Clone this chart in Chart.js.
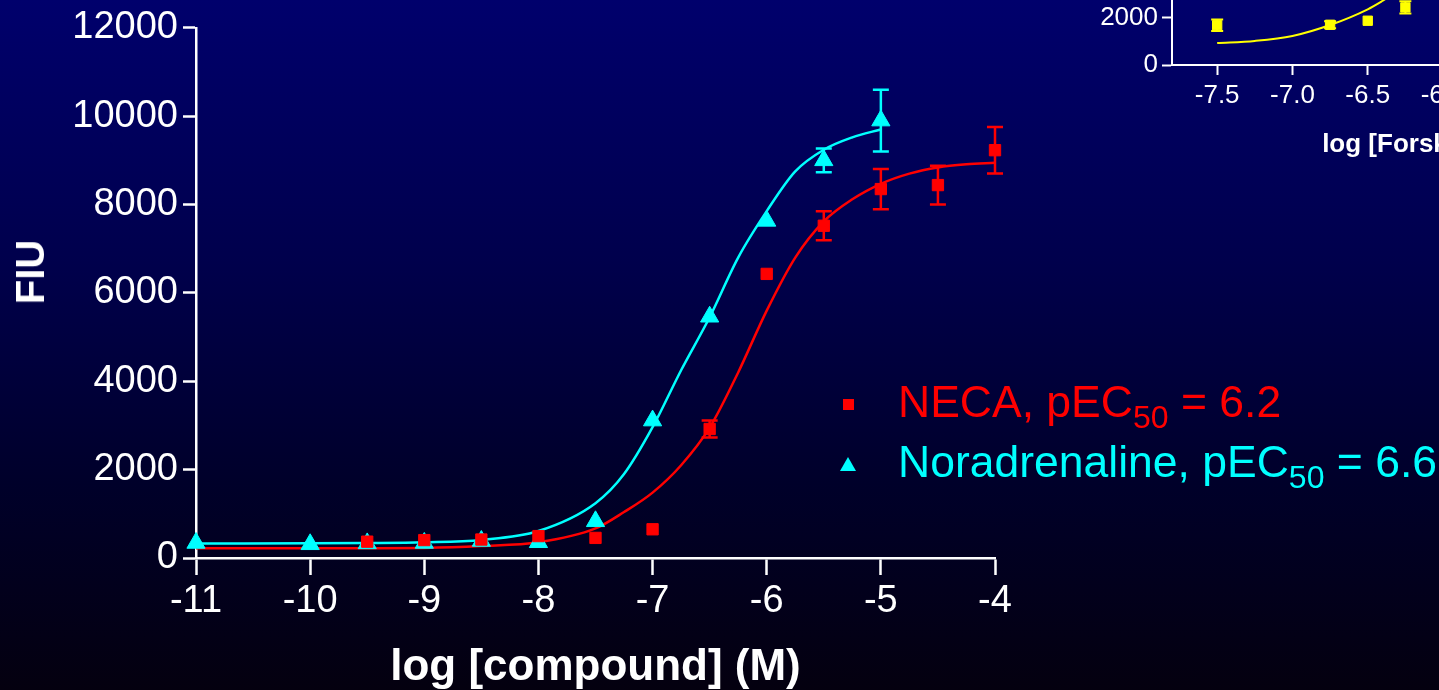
<!DOCTYPE html>
<html>
<head>
<meta charset="utf-8">
<script src="https://cdn.jsdelivr.net/npm/chart.js@4.4.1/dist/chart.umd.min.js"></script>
<style>
  html, body { margin: 0; padding: 0; width: 1439px; height: 690px; overflow: hidden; }
  body {
    position: relative;
    background: linear-gradient(to bottom, #00006c 0%, #00004c 38%, #00002a 70%, #04000f 100%);
    font-family: "Liberation Sans", Arial, sans-serif;
  }
  #main { position: absolute; left: 0; top: 0; }
  #inset { position: absolute; left: 1090px; top: -300px; }
  #ytitle {
    position: absolute; left: 30px; top: 272px;
    transform: translate(-50%, -50%) rotate(-90deg);
    color: #fff; font-weight: bold; font-size: 40px; line-height: 40px;
  }
  .leg { position: absolute; left: 898px; font-size: 44.5px; line-height: 46px; white-space: nowrap; }
  .leg span.sub { font-size: 0.72em; vertical-align: -0.35em; line-height: 0; }
  #leg1 { top: 379px; color: #ff0000; }
  #leg2 { top: 439px; color: #00ffff; }
  #mk1 { position: absolute; left: 843px; top: 399px; width: 11px; height: 11px; background: #ff0000; }
  #mk2 { position: absolute; left: 840px; top: 457px; width: 0; height: 0;
         border-left: 8px solid transparent; border-right: 8px solid transparent; border-bottom: 14px solid #00ffff; }
</style>
</head>
<body>
<canvas id="main" width="1439" height="690"></canvas>
<canvas id="inset" width="700" height="460"></canvas>
<div id="ytitle">FIU</div>
<div id="mk1"></div>
<div class="leg" id="leg1">NECA, pEC<span class="sub">50</span> = 6.2</div>
<div id="mk2"></div>
<div class="leg" id="leg2">Noradrenaline, pEC<span class="sub">50</span> = 6.6</div>
<script>
// main chart: measured points (log M, FIU) and SEM
const necaX = [-9.5, -9, -8.5, -8, -7.5, -7, -6.5, -6, -5.5, -5, -4.5, -4];
const necaY = [370, 405, 418, 496, 455, 650, 2920, 6430, 7520, 8350, 8440, 9230];
const necaErr = [0, 0, 0, 0, 0, 0, 190, 0, 330, 455, 440, 525];

const noraX = [-11, -10, -9.5, -9, -8.5, -8, -7.5, -7, -6.5, -6, -5.5, -5];
const noraY = [340, 310, 330, 340, 385, 356, 830, 3110, 5460, 7630, 9000, 9900];
const noraErr = [0, 0, 0, 0, 0, 0, 0, 0, 0, 0, 270, 700];

// fitted curves
const necaFitX = [-11, -10, -9.5, -9, -8.5, -8, -7.5, -7.25, -7, -6.75, -6.5, -6.25, -6, -5.75, -5.5, -5.25, -5, -4.75, -4.5, -4.25, -4];
const necaFitY = [218, 220, 222, 228, 270, 355, 670, 1040, 1480, 2100, 2950, 4200, 5600, 6800, 7620, 8120, 8470, 8700, 8840, 8910, 8945];
const noraFitX = [-11, -10, -9.5, -9, -8.5, -8, -7.5, -7.25, -7, -6.75, -6.5, -6.25, -6, -5.75, -5.5, -5.25, -5];
const noraFitY = [330, 332, 338, 355, 410, 610, 1240, 1900, 2960, 4250, 5450, 6800, 7850, 8750, 9240, 9520, 9700];

const yTicksMain = [0, 12000, 2000];   // min, max, step
const xTicksMain = [-11, -4, 1];

// inset (cut off at the top right)
const forskX = [-7.5, -6.75, -6.5, -6.25];
const forskY = [1670, 1690, 1860, 2420];
const forskErr = [240, 150, 0, 260];
const forskFitX = [-7.5, -7.25, -7, -6.75, -6.5, -6.4, -6.25];
const forskFitY = [920, 1010, 1220, 1680, 2340, 2700, 3300];
const insetXTicks = [-7.5, -7.0, -6.5, -6.0, -5.5, -5.0, -4.5];
const insetYTicks = [0, 2000, 4000, 6000, 8000, 10000];

const RED = '#ff0000', CYAN = '#00ffff', YELLOW = '#ffff00', WHITE = '#ffffff';
const FONT = '"Liberation Sans", Arial, sans-serif';

function pts(xs, ys) { return xs.map((x, i) => ({ x: x, y: ys[i] })); }

// vertical error bars with caps, drawn under the markers
const errorBars = {
  id: 'errorBars',
  beforeDatasetsDraw(chart) {
    const ctx = chart.ctx;
    const sx = chart.scales.x, sy = chart.scales.y;
    chart.data.datasets.forEach(ds => {
      if (!ds.errors) return;
      ctx.save();
      ctx.strokeStyle = ds.backgroundColor;
      ctx.lineWidth = ds.errWidth || 2.5;
      const cap = ds.errCap || 8;
      ds.data.forEach((p, i) => {
        const e = ds.errors[i];
        if (!e) return;
        const px = sx.getPixelForValue(p.x);
        const top = sy.getPixelForValue(p.y + e);
        const bot = sy.getPixelForValue(p.y - e);
        ctx.beginPath();
        ctx.moveTo(px, top); ctx.lineTo(px, bot);
        ctx.moveTo(px - cap, top); ctx.lineTo(px + cap, top);
        ctx.moveTo(px - cap, bot); ctx.lineTo(px + cap, bot);
        ctx.stroke();
      });
      ctx.restore();
    });
  }
};

Chart.defaults.font.family = FONT;
Chart.defaults.color = WHITE;

new Chart(document.getElementById('main'), {
  type: 'scatter',
  data: {
    datasets: [
      { data: pts(necaX, necaY), errors: necaErr, pointStyle: 'rect', pointRadius: 8,
        backgroundColor: RED, borderColor: RED, borderWidth: 1, order: 0, clip: false },
      { data: pts(noraX, noraY), errors: noraErr, pointStyle: 'triangle', pointRadius: 10.5,
        backgroundColor: CYAN, borderColor: CYAN, borderWidth: 1, order: 1, clip: false },
      { data: pts(necaFitX, necaFitY), showLine: true, pointRadius: 0, borderColor: RED, backgroundColor: RED,
        borderWidth: 2.5, cubicInterpolationMode: 'monotone', order: 2, clip: false },
      { data: pts(noraFitX, noraFitY), showLine: true, pointRadius: 0, borderColor: CYAN, backgroundColor: CYAN,
        borderWidth: 2.5, cubicInterpolationMode: 'monotone', order: 3, clip: false }
    ]
  },
  options: {
    responsive: false,
    animation: false,
    layout: { padding: { left: 0, right: 444, top: 26, bottom: 0 } },
    plugins: { legend: { display: false }, tooltip: { enabled: false } },
    scales: {
      x: {
        type: 'linear', min: xTicksMain[0], max: xTicksMain[1],
        afterFit: s => { s.height = 132; },
        ticks: { stepSize: xTicksMain[2], color: WHITE, font: { size: 38 }, padding: 4, includeBounds: false },
        grid: { drawOnChartArea: false, tickLength: 17, tickColor: WHITE, tickWidth: 2.5 },
        border: { color: WHITE, width: 2.5 },
        title: { display: true, text: 'log [compound] (M)', color: WHITE,
                 font: { size: 44, weight: 'bold', lineHeight: 1.0 }, padding: 0 }
      },
      y: {
        type: 'linear', min: yTicksMain[0], max: yTicksMain[1],
        afterFit: s => { s.width = 196; },
        ticks: { stepSize: yTicksMain[2], color: WHITE, font: { size: 38 }, padding: 5,
                 callback: v => String(v) },
        grid: { drawOnChartArea: false, tickLength: 13, tickColor: WHITE, tickWidth: 2.5 },
        border: { color: WHITE, width: 2.5 }
      }
    }
  },
  plugins: [errorBars]
});

new Chart(document.getElementById('inset'), {
  type: 'scatter',
  data: {
    datasets: [
      { data: pts(forskX, forskY), errors: forskErr, errCap: 6, errWidth: 2, pointStyle: 'rect', pointRadius: 6.6,
        backgroundColor: YELLOW, borderColor: YELLOW, borderWidth: 1, order: 0 },
      { data: pts(forskFitX, forskFitY), showLine: true, pointRadius: 0, borderColor: YELLOW, backgroundColor: YELLOW,
        borderWidth: 2, cubicInterpolationMode: 'monotone', order: 1 }
    ]
  },
  options: {
    responsive: false,
    animation: false,
    layout: { padding: { left: 0, right: 91, top: 127, bottom: 0 } },
    plugins: { legend: { display: false }, tooltip: { enabled: false } },
    scales: {
      x: {
        type: 'linear', min: -7.8, max: -4.3,
        afterFit: s => { s.height = 95; },
        afterBuildTicks: s => { s.ticks = insetXTicks.map(v => ({ value: v })); },
        ticks: { color: WHITE, font: { size: 26 }, padding: 5, callback: v => v.toFixed(1) },
        grid: { drawOnChartArea: false, tickLength: 10, tickColor: WHITE, tickWidth: 2 },
        border: { color: WHITE, width: 2 },
        title: { display: true, text: 'log [Forskolin] (M)', color: WHITE,
                 font: { size: 26, weight: 'bold', lineHeight: 1.2 }, padding: 0 }
      },
      y: {
        type: 'linear', min: 0, max: 10000,
        afterFit: s => { s.width = 82; },
        afterBuildTicks: s => { s.ticks = insetYTicks.map(v => ({ value: v })); },
        ticks: { color: WHITE, font: { size: 26 }, padding: 4, callback: v => String(v) },
        grid: { drawOnChartArea: false, tickLength: 10, tickColor: WHITE, tickWidth: 2 },
        border: { color: WHITE, width: 2 }
      }
    }
  },
  plugins: [errorBars]
});
</script>
</body>
</html>
